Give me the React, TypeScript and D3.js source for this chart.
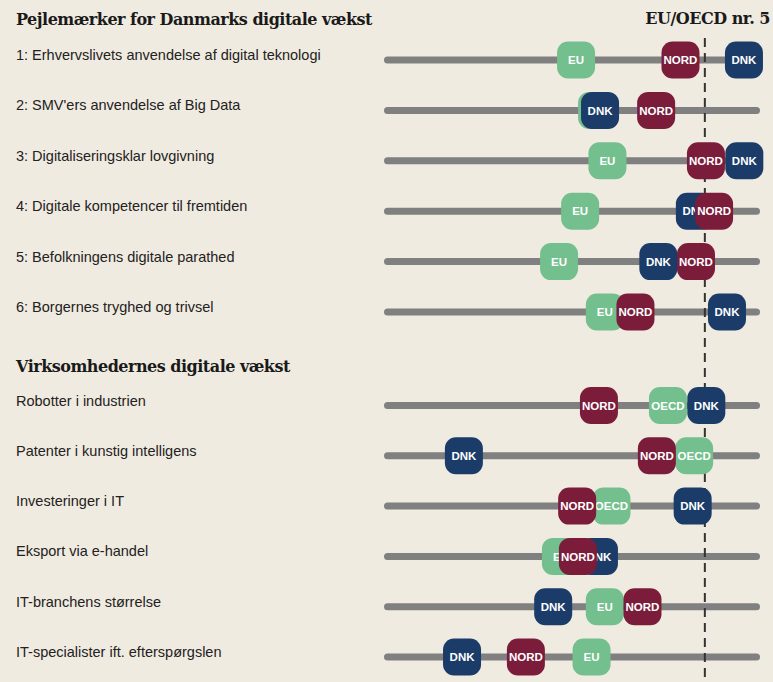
import React from "react";
import * as d3 from "d3";

// section titles
const sectionTitles = ["Pejlemærker for Danmarks digitale vækst", "Virksomhedernes digitale vækst"];

// indicators per section
const section1Labels = [
  "1: Erhvervslivets anvendelse af digital teknologi",
  "2: SMV'ers anvendelse af Big Data",
  "3: Digitaliseringsklar lovgivning",
  "4: Digitale kompetencer til fremtiden",
  "5: Befolkningens digitale parathed",
  "6: Borgernes tryghed og trivsel",
];
const section2Labels = [
  "Robotter i industrien",
  "Patenter i kunstig intelligens",
  "Investeringer i IT",
  "Eksport via e-handel",
  "IT-branchens størrelse",
  "IT-specialister ift. efterspørgslen",
];

// positions on the indicator scale (0 = weakest, 100 = strongest)
const benchNames = ["EU", "EU", "EU", "EU", "EU", "EU", "OECD", "OECD", "OECD", "EU", "EU", "EU"];
const benchValues = [51.1, 56.8, 59.6, 52.2, 46.5, 58.9, 76.0, 83.1, 60.7, 47.0, 58.9, 55.3];
const dnkValues = [96.6, 57.6, 96.7, 83.3, 73.4, 92.0, 86.4, 20.7, 82.7, 57.3, 44.9, 20.2];
const nordValues = [79.4, 72.8, 86.3, 88.5, 83.6, 67.2, 57.3, 73.0, 51.4, 51.6, 69.1, 37.5];

const thresholdLabel = "EU/OECD nr. 5";
const thresholdValue = 86.0;

const colors = { bench: "#73bf8d", DNK: "#1b3b69", NORD: "#7b1c3b" };

const W = 773;
const H = 682;

const App = () => {
  const svgRef = React.useRef(null);

  React.useEffect(() => {
    const svg = d3.select(svgRef.current);
    svg.selectAll("*").remove();

    const x = d3.scaleLinear().domain([0, 100]).range([387.5, 756.5]);
    const y1 = d3.scalePoint().domain(section1Labels).range([60, 312]);
    const y2 = d3.scalePoint().domain(section2Labels).range([405.5, 657]);

    const rows = [
      ...section1Labels.map((l) => ({ label: l, y: y1(l) })),
      ...section2Labels.map((l) => ({ label: l, y: y2(l) })),
    ].map((r, i) => ({
      ...r,
      marks: [
        { name: benchNames[i], value: benchValues[i], color: colors.bench },
        { name: "DNK", value: dnkValues[i], color: colors.DNK },
        { name: "NORD", value: nordValues[i], color: colors.NORD },
      ],
    }));

    svg.append("rect").attr("width", W).attr("height", H).attr("fill", "#f0ebe0");

    // section titles
    svg.selectAll("text.title")
      .data(sectionTitles)
      .join("text")
      .attr("class", "title")
      .attr("x", 16)
      .attr("y", (d, i) => (i === 0 ? 25 : 372))
      .attr("font-family", "'DejaVu Serif', serif")
      .attr("font-weight", "bold")
      .attr("font-size", 16)
      .attr("letter-spacing", -0.5)
      .attr("fill", "#1a1a1a")
      .text((d) => d);

    svg.append("text")
      .attr("x", 770)
      .attr("y", 24)
      .attr("text-anchor", "end")
      .attr("font-family", "'DejaVu Serif', serif")
      .attr("font-weight", "bold")
      .attr("font-size", 16)
      .attr("letter-spacing", -0.5)
      .attr("fill", "#1a1a1a")
      .text(thresholdLabel);

    // row labels
    svg.append("g")
      .selectAll("text")
      .data(rows)
      .join("text")
      .attr("x", 16)
      .attr("y", (d) => d.y)
      .attr("font-family", "'Liberation Sans', Arial, sans-serif")
      .attr("font-size", 14.5)
      .attr("fill", "#222")
      .text((d) => d.label);

    // bars
    svg.append("g")
      .selectAll("line")
      .data(rows)
      .join("line")
      .attr("x1", x(0))
      .attr("x2", x(100))
      .attr("y1", (d) => d.y)
      .attr("y2", (d) => d.y)
      .attr("stroke", "#808080")
      .attr("stroke-width", 7)
      .attr("stroke-linecap", "round");

    // threshold line
    svg.append("line")
      .attr("x1", x(thresholdValue))
      .attr("x2", x(thresholdValue))
      .attr("y1", 38)
      .attr("y2", H)
      .attr("stroke", "#333")
      .attr("stroke-width", 2)
      .attr("stroke-dasharray", "9,6");

    // markers
    const mw = 38;
    const mh = 37;
    const mark = svg.append("g")
      .selectAll("g")
      .data(rows.flatMap((r) => r.marks.map((m) => ({ ...m, y: r.y }))))
      .join("g")
      .attr("transform", (d) => `translate(${x(d.value)},${d.y})`);

    mark.append("rect")
      .attr("x", -mw / 2)
      .attr("y", -mh / 2)
      .attr("width", mw)
      .attr("height", mh)
      .attr("rx", 11)
      .attr("fill", (d) => d.color);

    mark.append("text")
      .attr("text-anchor", "middle")
      .attr("dy", "0.36em")
      .attr("font-family", "'Liberation Sans', Arial, sans-serif")
      .attr("font-weight", "bold")
      .attr("font-size", 11.5)
      .attr("fill", "#fff")
      .text((d) => d.name);
  }, []);

  return (
    <svg
      ref={svgRef}
      width={W}
      height={H}
      style={{ position: "absolute", left: 0, top: 0, display: "block" }}
    />
  );
};

export default App;
